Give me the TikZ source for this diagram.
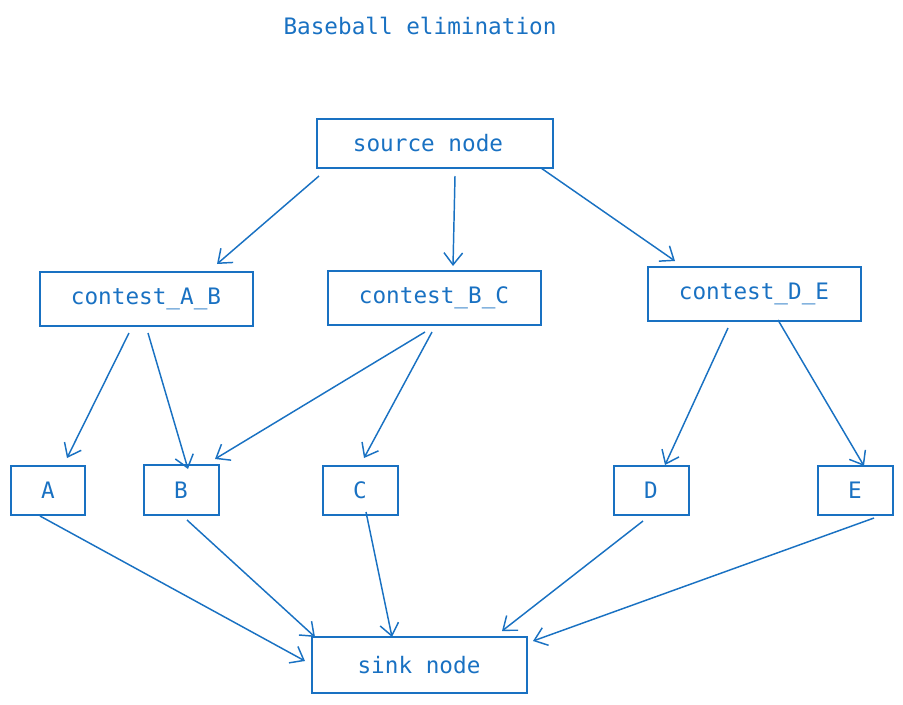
\documentclass[tikz,border=0pt]{standalone}
\usepackage{fontspec}
\setmonofont{DejaVu Sans Mono}
\usetikzlibrary{arrows.meta}
\definecolor{ex}{HTML}{1971C2}
\begin{document}
\begin{tikzpicture}[x=0.75pt,y=-0.75pt,
  box/.style={draw=ex,line width=1.1pt},
  lab/.style={text=ex,font=\ttfamily\fontsize{17}{19}\selectfont},
  arr/.style={draw=ex,line width=1.1pt,-{Straight Barb[length=9pt,width=14pt]}}]
\useasboundingbox (0,0) rectangle (903,704);
\node[lab] (title) at (420,26) {Baseball elimination};
\draw[box] (317,119) rectangle (553,168); \node[lab] (src) at (428,143) {source node};
\draw[box] (40,272) rectangle (253,326); \node[lab] (ab) at (146,299) {contest\_A\_B};
\draw[box] (328,271) rectangle (541,325); \node[lab] (bc) at (434,298) {contest\_B\_C};
\draw[box] (648,267) rectangle (861,321); \node[lab] (de) at (754,294) {contest\_D\_E};
\draw[box] (11,466) rectangle (85,515); \node[lab] (a) at (48,490) {A};
\draw[box] (144,465) rectangle (219,515); \node[lab] (b) at (181,490) {B};
\draw[box] (323,466) rectangle (398,515); \node[lab] (c) at (360,490) {C};
\draw[box] (614,466) rectangle (689,515); \node[lab] (d) at (651,490) {D};
\draw[box] (818,466) rectangle (893,515); \node[lab] (e) at (855,490) {E};
\draw[box] (312,637) rectangle (527,693); \node[lab] (sink) at (419,665) {sink node};
\coordinate (s1) at (319,176); \coordinate (ab1) at (217,264);
\coordinate (s2) at (455,176); \coordinate (bc1) at (453,266);
\coordinate (s3) at (541,168); \coordinate (de1) at (675,261);
\coordinate (ab2) at (129,333); \coordinate (a1) at (67,458);
\coordinate (ab3) at (148,333); \coordinate (b1) at (188,469);
\coordinate (bc2) at (425,332); \coordinate (b2) at (215,459);
\coordinate (bc3) at (432,332); \coordinate (c1) at (364,458);
\coordinate (de2) at (728,328); \coordinate (d1) at (665,465);
\coordinate (de3) at (778,320); \coordinate (e1) at (864,466);
\coordinate (a2) at (40,516); \coordinate (k1) at (305,661);
\coordinate (b3) at (187,520); \coordinate (k2) at (315,637);
\coordinate (c2) at (366,512); \coordinate (k3) at (392,637);
\coordinate (d2) at (643,521); \coordinate (k4) at (502,631);
\coordinate (e2) at (874,518); \coordinate (k5) at (533,641);
\draw[arr] (s1) -- (ab1); \draw[arr] (s2) -- (bc1); \draw[arr] (s3) -- (de1);
\draw[arr] (ab2) -- (a1); \draw[arr] (ab3) -- (b1);
\draw[arr] (bc2) -- (b2); \draw[arr] (bc3) -- (c1);
\draw[arr] (de2) -- (d1); \draw[arr] (de3) -- (e1);
\draw[arr] (a2) -- (k1); \draw[arr] (b3) -- (k2); \draw[arr] (c2) -- (k3);
\draw[arr] (d2) -- (k4); \draw[arr] (e2) -- (k5);
\end{tikzpicture}
\end{document}
